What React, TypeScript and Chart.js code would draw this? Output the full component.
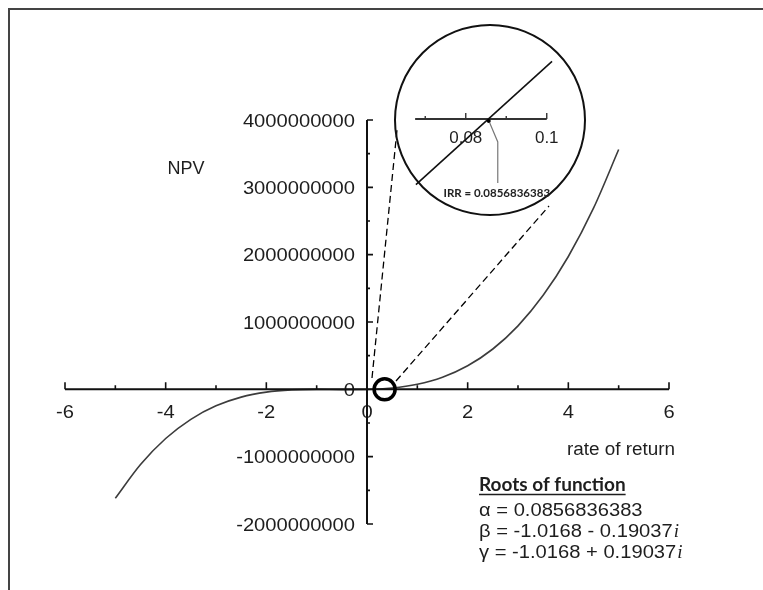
import React, { useEffect, useRef } from 'react';
import { Chart, registerables } from 'chart.js';

Chart.register(...registerables);

// ---- data ----
const rates = [-5, -4.5, -4, -3.5, -3, -2.5, -2, -1.5, -1, -0.5, 0, 0.5, 1, 1.5, 2, 2.5, 3, 3.5, 4, 4.5, 5];
const npv = [
  -1617000000, -1116000000, -730000000, -445000000, -245000000, -116000000, -42000000, -8600000,
  -800000, -3600000, -1800000, 19400000, 75000000, 180000000, 350000000, 599000000, 943000000,
  1396000000, 1973000000, 2690000000, 3561000000,
];
const xMajorTicks = [-6, -4, -2, 0, 2, 4, 6];
const xMinorTicks = [-5, -3, -1, 1, 3, 5];
const xTickLabels = ['-6', '-4', '-2', '0', '2', '4', '6'];
const yMajorTicks = [4000000000, 3000000000, 2000000000, 1000000000, 0, -1000000000, -2000000000];
const yMinorTicks = [3500000000, 2500000000, 1500000000, 500000000, -500000000, -1500000000];
const yTickLabels = ['4000000000', '3000000000', '2000000000', '1000000000', '0', '-1000000000', '-2000000000'];
const xTitle = 'rate of return';
const yTitle = 'NPV';

const insetRates = [0.0677, 0.1013];
const insetNpv = [-445000, 390000];
const insetMajorTicks = [0.08, 0.1];
const insetMinorTicks = [0.07, 0.09];
const insetTickLabels = ['0.08', '0.1'];
const insetAxisStart = 0.0675;
const irr = 0.0856836383;
const irrLabel = 'IRR = 0.0856836383';

const rootsTitle = 'Roots of function';
const rootLines = ['α = 0.0856836383', 'β = -1.0168 - 0.19037', 'γ = -1.0168 + 0.19037'];
const rootImag = ['', 'i', 'i'];

const TEXT = '#1e1e1e';

function drawText(
  ctx: CanvasRenderingContext2D,
  text: string,
  x: number,
  y: number,
  font: string,
  align: 'left' | 'center' | 'right',
  sx = 1,
  color = TEXT
) {
  ctx.save();
  ctx.font = font;
  ctx.fillStyle = color;
  ctx.textAlign = 'left';
  ctx.textBaseline = 'alphabetic';
  const w = ctx.measureText(text).width * sx;
  const left = align === 'center' ? x - w / 2 : align === 'right' ? x - w : x;
  ctx.translate(left, y);
  ctx.scale(sx, 1);
  ctx.fillText(text, 0, 0);
  ctx.restore();
  return w;
}

const MAIN_FONT = '18px "Liberation Sans", Arial, sans-serif';

const mainDecor = {
  id: 'mainDecor',
  afterDatasetsDraw(chart: any) {
    const ctx: CanvasRenderingContext2D = chart.ctx;
    const xs = chart.scales.x;
    const ys = chart.scales.y;
    const x0 = xs.getPixelForValue(0);
    const y0 = ys.getPixelForValue(0);

    ctx.save();
    // frame
    ctx.strokeStyle = '#444';
    ctx.lineWidth = 2;
    ctx.beginPath();
    ctx.moveTo(9, 590);
    ctx.lineTo(9, 9);
    ctx.lineTo(763, 9);
    ctx.stroke();

    // tick labels
    xMajorTicks.forEach((v, i) => {
      drawText(ctx, xTickLabels[i], xs.getPixelForValue(v), y0 + 29, MAIN_FONT, 'center', 1.12);
    });
    yMajorTicks.forEach((v, i) => {
      drawText(ctx, yTickLabels[i], x0 - 12, ys.getPixelForValue(v) + 6.5, MAIN_FONT, 'right', 1.12);
    });

    // axes
    ctx.strokeStyle = '#111';
    ctx.lineWidth = 2;
    ctx.beginPath();
    ctx.moveTo(xs.getPixelForValue(-6), y0);
    ctx.lineTo(xs.getPixelForValue(6), y0);
    ctx.moveTo(x0, ys.getPixelForValue(4000000000));
    ctx.lineTo(x0, ys.getPixelForValue(-2000000000));
    ctx.stroke();

    ctx.lineWidth = 1.6;
    ctx.beginPath();
    xMajorTicks.forEach((v) => {
      if (v === 0) return;
      const px = xs.getPixelForValue(v);
      ctx.moveTo(px, y0);
      ctx.lineTo(px, y0 - 7);
    });
    xMinorTicks.forEach((v) => {
      const px = xs.getPixelForValue(v);
      ctx.moveTo(px, y0);
      ctx.lineTo(px, y0 - 4);
    });
    yMajorTicks.forEach((v) => {
      if (v === 0) return;
      const py = ys.getPixelForValue(v);
      ctx.moveTo(x0, py);
      ctx.lineTo(x0 + 6, py);
    });
    yMinorTicks.forEach((v) => {
      const py = ys.getPixelForValue(v);
      ctx.moveTo(x0, py);
      ctx.lineTo(x0 + 3, py);
    });
    ctx.stroke();

    // axis titles
    drawText(ctx, yTitle, 186, 174, MAIN_FONT, 'center', 1.0);
    drawText(ctx, xTitle, 621, 455, MAIN_FONT, 'center', 1.05);

    // zoom marker circle
    const mx = xs.getPixelForValue(0.35);
    ctx.strokeStyle = '#000';
    ctx.lineWidth = 3.5;
    ctx.beginPath();
    ctx.arc(mx, y0, 10.5, 0, Math.PI * 2);
    ctx.stroke();

    // dashed connectors
    ctx.lineWidth = 1.3;
    ctx.setLineDash([7, 4]);
    ctx.beginPath();
    ctx.moveTo(372, 378);
    ctx.lineTo(397, 130);
    ctx.moveTo(396, 381);
    ctx.lineTo(549, 206);
    ctx.stroke();
    ctx.setLineDash([]);

    // inset circle
    ctx.lineWidth = 2;
    ctx.strokeStyle = '#111';
    ctx.beginPath();
    ctx.arc(490, 120, 95, 0, Math.PI * 2);
    ctx.stroke();

    // roots text
    const tw = drawText(ctx, rootsTitle, 479, 491, 'bold 19px Lato, "Open Sans", sans-serif', 'left', 1.0);
    ctx.strokeStyle = TEXT;
    ctx.lineWidth = 1.5;
    ctx.beginPath();
    ctx.moveTo(479, 494.5);
    ctx.lineTo(479 + tw, 494.5);
    ctx.stroke();
    const bases = [516, 537, 558];
    rootLines.forEach((t, i) => {
      const w = drawText(ctx, t, 479, bases[i], MAIN_FONT, 'left', 1.12);
      if (rootImag[i]) {
        drawText(ctx, rootImag[i], 479 + w + 1, bases[i], 'italic 19px "Liberation Serif", "Times New Roman", serif', 'left', 1.0);
      }
    });
    ctx.restore();
  },
};

const insetDecor = {
  id: 'insetDecor',
  beforeDatasetsDraw(chart: any) {
    const ctx: CanvasRenderingContext2D = chart.ctx;
    const xs = chart.scales.x;
    const ys = chart.scales.y;
    const y0 = ys.getPixelForValue(0);
    ctx.save();
    ctx.strokeStyle = '#333';
    ctx.lineWidth = 2;
    ctx.beginPath();
    ctx.moveTo(xs.getPixelForValue(insetAxisStart), y0);
    ctx.lineTo(xs.getPixelForValue(0.1), y0);
    ctx.stroke();
    ctx.lineWidth = 1.4;
    ctx.beginPath();
    insetMajorTicks.forEach((v) => {
      const px = xs.getPixelForValue(v);
      ctx.moveTo(px, y0);
      ctx.lineTo(px, y0 - 6);
    });
    insetMinorTicks.forEach((v) => {
      const px = xs.getPixelForValue(v);
      ctx.moveTo(px, y0);
      ctx.lineTo(px, y0 - 3);
    });
    ctx.stroke();
    insetMajorTicks.forEach((v, i) => {
      drawText(ctx, insetTickLabels[i], xs.getPixelForValue(v), y0 + 24, '17px "Liberation Sans", Arial, sans-serif', 'center', 1.0);
    });
    ctx.restore();
  },
  afterDatasetsDraw(chart: any) {
    const ctx: CanvasRenderingContext2D = chart.ctx;
    const xs = chart.scales.x;
    const ys = chart.scales.y;
    const rx = xs.getPixelForValue(irr);
    const y0 = ys.getPixelForValue(0);
    ctx.save();
    ctx.fillStyle = '#000';
    ctx.beginPath();
    ctx.arc(rx, y0 + 2, 2, 0, Math.PI * 2);
    ctx.fill();
    ctx.strokeStyle = '#777';
    ctx.lineWidth = 1.2;
    ctx.beginPath();
    ctx.moveTo(rx + 1, y0 + 4);
    ctx.lineTo(rx + 9, y0 + 23);
    ctx.lineTo(rx + 9, y0 + 64);
    ctx.stroke();
    drawText(ctx, irrLabel, rx + 8, y0 + 78, 'bold 11.5px Lato, "Open Sans", sans-serif', 'center', 1.0, '#222');
    ctx.restore();
  },
};

export default function App() {
  const mainRef = useRef<HTMLCanvasElement>(null);
  const insetRef = useRef<HTMLCanvasElement>(null);

  useEffect(() => {
    if (!mainRef.current || !insetRef.current) return;
    const main = new Chart(mainRef.current, {
      type: 'scatter',
      data: {
        datasets: [
          {
            data: rates.map((r, i) => ({ x: r, y: npv[i] })),
            showLine: true,
            borderColor: '#3c3c3c',
            borderWidth: 1.6,
            pointRadius: 0,
            cubicInterpolationMode: 'monotone',
            fill: false,
          } as any,
        ],
      },
      options: {
        animation: false,
        responsive: false,
        devicePixelRatio: 1,
        layout: { padding: { left: 65, right: 94, top: 120, bottom: 66 } },
        scales: {
          x: { type: 'linear', min: -6, max: 6, display: false },
          y: { type: 'linear', min: -2000000000, max: 4000000000, display: false },
        },
        plugins: { legend: { display: false }, tooltip: { enabled: false } },
        events: [],
      },
      plugins: [mainDecor],
    });

    const inset = new Chart(insetRef.current, {
      type: 'scatter',
      data: {
        datasets: [
          {
            data: insetRates.map((r, i) => ({ x: r, y: insetNpv[i] })),
            showLine: true,
            borderColor: '#111',
            borderWidth: 1.6,
            pointRadius: 0,
            clip: false,
          } as any,
        ],
      },
      options: {
        animation: false,
        responsive: false,
        devicePixelRatio: 1,
        layout: { padding: 0 },
        scales: {
          x: { type: 'linear', min: 0.065, max: 0.105, display: false },
          y: { type: 'linear', min: -650000, max: 636000, display: false },
        },
        plugins: { legend: { display: false }, tooltip: { enabled: false } },
        events: [],
      },
      plugins: [insetDecor],
    });

    return () => {
      main.destroy();
      inset.destroy();
    };
  }, []);

  return (
    <div style={{ position: 'fixed', left: 0, top: 0, width: 763, height: 590, background: '#fff' }}>
      <canvas
        ref={mainRef}
        width={763}
        height={590}
        style={{ position: 'absolute', left: 0, top: 0, width: 763, height: 590 }}
      />
      <canvas
        ref={insetRef}
        width={162}
        height={190}
        style={{ position: 'absolute', left: 405, top: 25, width: 162, height: 190 }}
      />
    </div>
  );
}
